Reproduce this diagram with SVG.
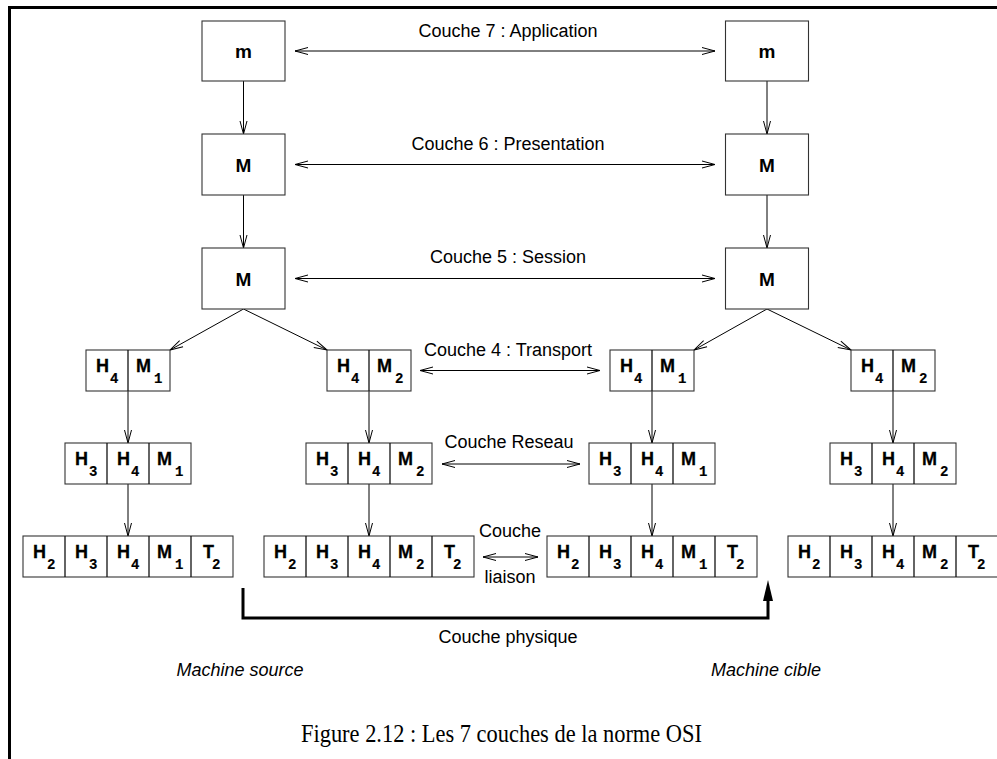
<svg xmlns="http://www.w3.org/2000/svg" width="997" height="759" viewBox="0 0 997 759">
  <style>
    .frame { stroke: #000; stroke-width: 3; fill: none; }
    .box { fill: #fff; stroke: #333; stroke-width: 1.1; }
    .div { stroke: #111; stroke-width: 1.3; }
    .cn { stroke: #000; stroke-width: 1; fill: none; }
    .lbl { font-family: "Liberation Sans", Arial, sans-serif; font-size: 18px; fill: #000; }
    .it { font-style: italic; font-size: 18px; }
    .big { font-family: "Liberation Sans", Arial, sans-serif; font-weight: bold; font-size: 19px; fill: #000; text-anchor: middle; }
    .L { font-family: "Liberation Sans", Arial, sans-serif; font-weight: bold; font-size: 18px; fill: #000; stroke: #000; stroke-width: 0.3; }
    .s { font-family: "Liberation Mono", "Courier New", monospace; font-weight: bold; font-size: 14px; stroke-width: 0.2; }
    .cap { font-family: "Liberation Serif", "Times New Roman", serif; font-size: 25px; fill: #000; }
  </style>
  <defs>
    <marker id="ah" markerUnits="userSpaceOnUse" viewBox="-15 -6 16 12" refX="0" refY="0" markerWidth="16" markerHeight="12" orient="auto-start-reverse">
      <path d="M-13,-3.5 L0,0 L-13,3.5" fill="none" stroke="#000" stroke-width="1"/>
    </marker>
  </defs>

  <rect width="997" height="759" fill="#fff"/>
  <!-- frame: top and left rules -->
  <path class="frame" d="M9.5,759 V7.5 H997"/>

  <!-- connectors -->
  <g id="connectors">
    <!-- peer layer arrows -->
    <line class="cn" x1="295" y1="51" x2="715" y2="51" marker-start="url(#ah)" marker-end="url(#ah)"/>
    <line class="cn" x1="295" y1="164.5" x2="715" y2="164.5" marker-start="url(#ah)" marker-end="url(#ah)"/>
    <line class="cn" x1="295" y1="278.5" x2="715" y2="278.5" marker-start="url(#ah)" marker-end="url(#ah)"/>
    <line class="cn" x1="420" y1="370.5" x2="600" y2="370.5" marker-start="url(#ah)" marker-end="url(#ah)"/>
    <line class="cn" x1="442" y1="464" x2="580" y2="464" marker-start="url(#ah)" marker-end="url(#ah)"/>
    <line class="cn" x1="483" y1="557" x2="538" y2="557" marker-start="url(#ah)" marker-end="url(#ah)"/>
    <!-- source stack, top -->
    <line class="cn" x1="243.5" y1="81" x2="243.5" y2="134" marker-end="url(#ah)"/>
    <line class="cn" x1="243.5" y1="195" x2="243.5" y2="248" marker-end="url(#ah)"/>
    <line class="cn" x1="243.5" y1="309" x2="170" y2="350" marker-end="url(#ah)"/>
    <line class="cn" x1="243.5" y1="309" x2="327" y2="350" marker-end="url(#ah)"/>
    <!-- target stack, top -->
    <line class="cn" x1="767" y1="81" x2="767" y2="134" marker-end="url(#ah)"/>
    <line class="cn" x1="767" y1="195" x2="767" y2="248" marker-end="url(#ah)"/>
    <line class="cn" x1="767" y1="309" x2="694" y2="350" marker-end="url(#ah)"/>
    <line class="cn" x1="767" y1="309" x2="851" y2="350" marker-end="url(#ah)"/>
    <!-- fragment stacks -->
    <line class="cn" x1="128" y1="391" x2="128" y2="443" marker-end="url(#ah)"/>
    <line class="cn" x1="128" y1="484" x2="128" y2="536" marker-end="url(#ah)"/>
    <line class="cn" x1="369" y1="391" x2="369" y2="443" marker-end="url(#ah)"/>
    <line class="cn" x1="369" y1="484" x2="369" y2="536" marker-end="url(#ah)"/>
    <line class="cn" x1="652" y1="391" x2="652" y2="443" marker-end="url(#ah)"/>
    <line class="cn" x1="652" y1="484" x2="652" y2="536" marker-end="url(#ah)"/>
    <line class="cn" x1="893" y1="391" x2="893" y2="443" marker-end="url(#ah)"/>
    <line class="cn" x1="893" y1="484" x2="893" y2="536" marker-end="url(#ah)"/>
    <!-- physical link -->
    <path d="M243,588 V618 H768 V600" fill="none" stroke="#000" stroke-width="3"/>
    <path d="M768,580 L773,601 L763,601 Z" fill="#000"/>
  </g>

  <!-- layer labels -->
  <g id="labels">
    <text class="lbl" x="508" y="37" text-anchor="middle">Couche 7 : Application</text>
    <text class="lbl" x="508" y="150" text-anchor="middle">Couche 6 : Presentation</text>
    <text class="lbl" x="508" y="263" text-anchor="middle">Couche 5 : Session</text>
    <text class="lbl" x="508" y="356" text-anchor="middle">Couche 4 : Transport</text>
    <text class="lbl" x="509" y="448" text-anchor="middle">Couche Reseau</text>
    <text class="lbl" x="510" y="537" text-anchor="middle">Couche</text>
    <text class="lbl" x="510" y="583" text-anchor="middle">liaison</text>
    <text class="lbl" x="508" y="643" text-anchor="middle">Couche physique</text>
    <text class="lbl it" x="240" y="676" text-anchor="middle">Machine source</text>
    <text class="lbl it" x="766" y="676" text-anchor="middle">Machine cible</text>
    <text class="cap" x="301" y="742" textLength="401" lengthAdjust="spacingAndGlyphs">Figure 2.12 : Les 7 couches de la norme OSI</text>
  </g>

  <!-- application / presentation / session messages -->
  <g id="src-app"><rect class="box" x="202" y="21" width="83" height="60"/><text class="big" x="243.5" y="58">m</text></g>
  <g id="src-pres"><rect class="box" x="202" y="134" width="83" height="61"/><text class="big" x="243.5" y="171.5">M</text></g>
  <g id="src-sess"><rect class="box" x="202" y="248" width="83" height="61"/><text class="big" x="243.5" y="285.5">M</text></g>
  <g id="dst-app"><rect class="box" x="725.5" y="21" width="83" height="60"/><text class="big" x="767" y="58">m</text></g>
  <g id="dst-pres"><rect class="box" x="725.5" y="134" width="83" height="61"/><text class="big" x="767" y="171.5">M</text></g>
  <g id="dst-sess"><rect class="box" x="725.5" y="248" width="83" height="61"/><text class="big" x="767" y="285.5">M</text></g>

  <!-- transport segments -->
  <g id="src-t1">
    <rect class="box" x="86" y="350" width="84" height="41"/><line class="div" x1="128" y1="350" x2="128" y2="391"/>
    <text class="L" x="96" y="371.5">H<tspan class="s" x="110" y="383">4</tspan></text>
    <text class="L" x="136" y="371.5">M<tspan class="s" x="154" y="383">1</tspan></text>
  </g>
  <g id="src-t2">
    <rect class="box" x="327" y="350" width="84" height="41"/><line class="div" x1="369" y1="350" x2="369" y2="391"/>
    <text class="L" x="337" y="371.5">H<tspan class="s" x="351" y="383">4</tspan></text>
    <text class="L" x="377" y="371.5">M<tspan class="s" x="395" y="383">2</tspan></text>
  </g>
  <g id="dst-t1">
    <rect class="box" x="610" y="350" width="84" height="41"/><line class="div" x1="652" y1="350" x2="652" y2="391"/>
    <text class="L" x="620" y="371.5">H<tspan class="s" x="634" y="383">4</tspan></text>
    <text class="L" x="660" y="371.5">M<tspan class="s" x="678" y="383">1</tspan></text>
  </g>
  <g id="dst-t2">
    <rect class="box" x="851" y="350" width="84" height="41"/><line class="div" x1="893" y1="350" x2="893" y2="391"/>
    <text class="L" x="861" y="371.5">H<tspan class="s" x="875" y="383">4</tspan></text>
    <text class="L" x="901" y="371.5">M<tspan class="s" x="919" y="383">2</tspan></text>
  </g>

  <!-- network packets -->
  <g id="src-n1">
    <rect class="box" x="65" y="443" width="126" height="41"/>
    <line class="div" x1="107" y1="443" x2="107" y2="484"/><line class="div" x1="149" y1="443" x2="149" y2="484"/>
    <text class="L" x="75" y="464.5">H<tspan class="s" x="89" y="476">3</tspan></text>
    <text class="L" x="117" y="464.5">H<tspan class="s" x="131" y="476">4</tspan></text>
    <text class="L" x="157" y="464.5">M<tspan class="s" x="175" y="476">1</tspan></text>
  </g>
  <g id="src-n2">
    <rect class="box" x="306" y="443" width="126" height="41"/>
    <line class="div" x1="348" y1="443" x2="348" y2="484"/><line class="div" x1="390" y1="443" x2="390" y2="484"/>
    <text class="L" x="316" y="464.5">H<tspan class="s" x="330" y="476">3</tspan></text>
    <text class="L" x="358" y="464.5">H<tspan class="s" x="372" y="476">4</tspan></text>
    <text class="L" x="398" y="464.5">M<tspan class="s" x="416" y="476">2</tspan></text>
  </g>
  <g id="dst-n1">
    <rect class="box" x="589" y="443" width="126" height="41"/>
    <line class="div" x1="631" y1="443" x2="631" y2="484"/><line class="div" x1="673" y1="443" x2="673" y2="484"/>
    <text class="L" x="599" y="464.5">H<tspan class="s" x="613" y="476">3</tspan></text>
    <text class="L" x="641" y="464.5">H<tspan class="s" x="655" y="476">4</tspan></text>
    <text class="L" x="681" y="464.5">M<tspan class="s" x="699" y="476">1</tspan></text>
  </g>
  <g id="dst-n2">
    <rect class="box" x="830" y="443" width="126" height="41"/>
    <line class="div" x1="872" y1="443" x2="872" y2="484"/><line class="div" x1="914" y1="443" x2="914" y2="484"/>
    <text class="L" x="840" y="464.5">H<tspan class="s" x="854" y="476">3</tspan></text>
    <text class="L" x="882" y="464.5">H<tspan class="s" x="896" y="476">4</tspan></text>
    <text class="L" x="922" y="464.5">M<tspan class="s" x="940" y="476">2</tspan></text>
  </g>

  <!-- link frames -->
  <g id="src-f1">
    <rect class="box" x="23" y="536" width="210" height="41"/>
    <line class="div" x1="65" y1="536" x2="65" y2="577"/><line class="div" x1="107" y1="536" x2="107" y2="577"/>
    <line class="div" x1="149" y1="536" x2="149" y2="577"/><line class="div" x1="191" y1="536" x2="191" y2="577"/>
    <text class="L" x="33" y="557.5">H<tspan class="s" x="47" y="569">2</tspan></text>
    <text class="L" x="75" y="557.5">H<tspan class="s" x="89" y="569">3</tspan></text>
    <text class="L" x="117" y="557.5">H<tspan class="s" x="131" y="569">4</tspan></text>
    <text class="L" x="157" y="557.5">M<tspan class="s" x="175" y="569">1</tspan></text>
    <text class="L" x="203" y="557.5">T<tspan class="s" x="212" y="569">2</tspan></text>
  </g>
  <g id="src-f2">
    <rect class="box" x="264" y="536" width="210" height="41"/>
    <line class="div" x1="306" y1="536" x2="306" y2="577"/><line class="div" x1="348" y1="536" x2="348" y2="577"/>
    <line class="div" x1="390" y1="536" x2="390" y2="577"/><line class="div" x1="432" y1="536" x2="432" y2="577"/>
    <text class="L" x="274" y="557.5">H<tspan class="s" x="288" y="569">2</tspan></text>
    <text class="L" x="316" y="557.5">H<tspan class="s" x="330" y="569">3</tspan></text>
    <text class="L" x="358" y="557.5">H<tspan class="s" x="372" y="569">4</tspan></text>
    <text class="L" x="398" y="557.5">M<tspan class="s" x="416" y="569">2</tspan></text>
    <text class="L" x="444" y="557.5">T<tspan class="s" x="453" y="569">2</tspan></text>
  </g>
  <g id="dst-f1">
    <rect class="box" x="547" y="536" width="210" height="41"/>
    <line class="div" x1="589" y1="536" x2="589" y2="577"/><line class="div" x1="631" y1="536" x2="631" y2="577"/>
    <line class="div" x1="673" y1="536" x2="673" y2="577"/><line class="div" x1="715" y1="536" x2="715" y2="577"/>
    <text class="L" x="557" y="557.5">H<tspan class="s" x="571" y="569">2</tspan></text>
    <text class="L" x="599" y="557.5">H<tspan class="s" x="613" y="569">3</tspan></text>
    <text class="L" x="641" y="557.5">H<tspan class="s" x="655" y="569">4</tspan></text>
    <text class="L" x="681" y="557.5">M<tspan class="s" x="699" y="569">1</tspan></text>
    <text class="L" x="727" y="557.5">T<tspan class="s" x="736" y="569">2</tspan></text>
  </g>
  <g id="dst-f2">
    <rect class="box" x="788" y="536" width="210" height="41"/>
    <line class="div" x1="830" y1="536" x2="830" y2="577"/><line class="div" x1="872" y1="536" x2="872" y2="577"/>
    <line class="div" x1="914" y1="536" x2="914" y2="577"/><line class="div" x1="956" y1="536" x2="956" y2="577"/>
    <text class="L" x="798" y="557.5">H<tspan class="s" x="812" y="569">2</tspan></text>
    <text class="L" x="840" y="557.5">H<tspan class="s" x="854" y="569">3</tspan></text>
    <text class="L" x="882" y="557.5">H<tspan class="s" x="896" y="569">4</tspan></text>
    <text class="L" x="922" y="557.5">M<tspan class="s" x="940" y="569">2</tspan></text>
    <text class="L" x="968" y="557.5">T<tspan class="s" x="977" y="569">2</tspan></text>
  </g>
</svg>
